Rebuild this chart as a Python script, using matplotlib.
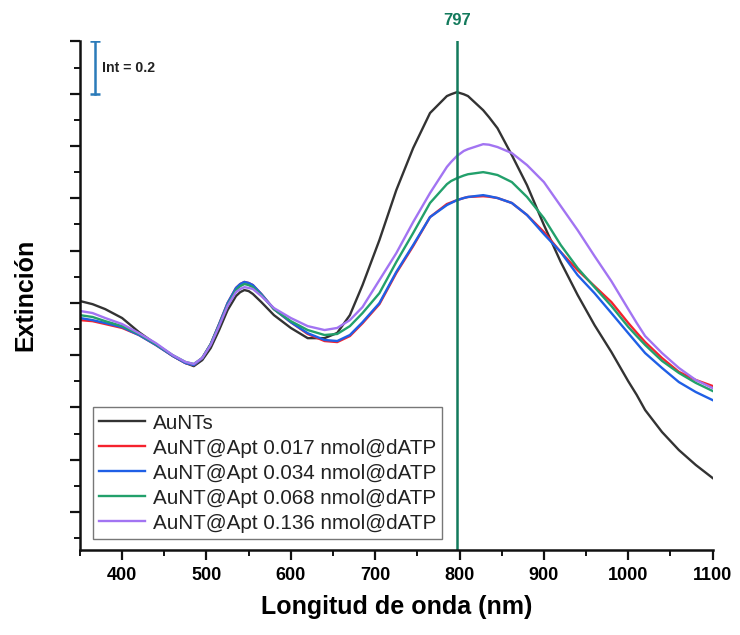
import matplotlib
matplotlib.use("Agg")
import matplotlib.pyplot as plt
from matplotlib.ticker import MultipleLocator, NullFormatter

plt.rcParams['font.family'] = ['Liberation Sans', 'DejaVu Sans']

wavelength = [350, 365, 380, 400, 420, 440, 460, 475, 485, 495,
              505, 515, 525, 535, 540, 545, 550, 555, 565, 580,
              600, 620, 640, 655, 670, 685, 705, 725, 745, 765,
              785, 790, 797, 805, 810, 828, 835, 845, 862, 880,
              900, 920, 940, 960, 980, 1000, 1010, 1020, 1040, 1060,
              1080, 1100]

aunts = [1.207, 1.195, 1.176, 1.142, 1.088, 1.042, 0.997, 0.970, 0.958, 0.981,
         1.027, 1.096, 1.172, 1.226, 1.241, 1.249, 1.245, 1.234, 1.203, 1.153,
         1.104, 1.065, 1.065, 1.085, 1.153, 1.268, 1.440, 1.631, 1.792, 1.926,
         1.991, 1.998, 2.006, 1.998, 1.991, 1.937, 1.910, 1.868, 1.765, 1.650,
         1.498, 1.356, 1.230, 1.115, 1.012, 0.900, 0.848, 0.790, 0.706, 0.637,
         0.580, 0.530]

apt_017 = [1.134, 1.130, 1.119, 1.104, 1.077, 1.039, 0.997, 0.970, 0.962, 0.989,
           1.042, 1.119, 1.199, 1.257, 1.272, 1.280, 1.276, 1.268, 1.234, 1.176,
           1.126, 1.081, 1.054, 1.050, 1.073, 1.122, 1.195, 1.314, 1.417, 1.528,
           1.578, 1.584, 1.593, 1.601, 1.605, 1.608, 1.606, 1.601, 1.582, 1.536,
           1.471, 1.394, 1.325, 1.264, 1.203, 1.123, 1.086, 1.050, 0.989, 0.936,
           0.905, 0.882]

apt_034 = [1.142, 1.134, 1.123, 1.107, 1.077, 1.039, 0.997, 0.970, 0.962, 0.989,
           1.042, 1.119, 1.199, 1.257, 1.272, 1.280, 1.276, 1.268, 1.234, 1.176,
           1.126, 1.084, 1.058, 1.054, 1.077, 1.126, 1.199, 1.318, 1.421, 1.528,
           1.574, 1.582, 1.593, 1.601, 1.605, 1.612, 1.608, 1.601, 1.582, 1.536,
           1.463, 1.394, 1.306, 1.237, 1.161, 1.084, 1.046, 1.008, 0.951, 0.897,
           0.859, 0.828]

apt_068 = [1.153, 1.146, 1.130, 1.111, 1.081, 1.042, 1.000, 0.974, 0.966, 0.989,
           1.042, 1.115, 1.192, 1.249, 1.264, 1.272, 1.268, 1.260, 1.230, 1.176,
           1.130, 1.096, 1.077, 1.081, 1.111, 1.161, 1.237, 1.356, 1.467, 1.582,
           1.654, 1.666, 1.677, 1.687, 1.692, 1.700, 1.696, 1.689, 1.662, 1.605,
           1.524, 1.421, 1.333, 1.260, 1.188, 1.108, 1.073, 1.039, 0.978, 0.932,
           0.894, 0.863]

apt_136 = [1.169, 1.161, 1.142, 1.119, 1.084, 1.046, 1.000, 0.974, 0.966, 0.989,
           1.039, 1.111, 1.188, 1.241, 1.253, 1.260, 1.257, 1.253, 1.226, 1.180,
           1.142, 1.111, 1.096, 1.104, 1.134, 1.184, 1.287, 1.390, 1.509, 1.620,
           1.720, 1.739, 1.762, 1.781, 1.788, 1.807, 1.805, 1.796, 1.773, 1.727,
           1.662, 1.570, 1.478, 1.379, 1.283, 1.176, 1.123, 1.073, 1.008, 0.951,
           0.905, 0.874]

labels = ["AuNTs", "AuNT@Apt 0.017 nmol@dATP", "AuNT@Apt 0.034 nmol@dATP",
          "AuNT@Apt 0.068 nmol@dATP", "AuNT@Apt 0.136 nmol@dATP"]
colors = ["#333333", "#f5222d", "#1f5fe6", "#22a06b", "#a274f2"]
series = [aunts, apt_017, apt_034, apt_068, apt_136]

peak_line = 797
scale_bar = (2.0, 2.2)

fig = plt.figure(figsize=(7.4, 6.35), dpi=100)
ax = fig.add_axes([0.108, 0.134, 0.855, 0.802])

for y, c, lab in zip(series, colors, labels):
    ax.plot(wavelength, y, color=c, lw=1.7, label=lab, solid_joinstyle='round')

teal = "#137a5c"
ax.axvline(peak_line, color=teal, lw=1.8)
ax.text(peak_line, 1.024, str(peak_line), transform=ax.get_xaxis_transform(),
        ha='center', va='bottom', color=teal, fontsize=12, fontweight='bold')

# scale bar
sb_color = "#2b7bb9"
ax.plot([368, 368], list(scale_bar), color=sb_color, lw=1.8, marker='_', ms=7, mew=1.8)
ax.text(376, sum(scale_bar) / 2, "Int = 0.2", ha='left', va='center',
        fontsize=10.2, fontweight='bold', color='#222222')

ax.set_xlim(350, 1100)
ax.set_ylim(0.255, 2.203)

ax.spines['top'].set_visible(False)
ax.spines['right'].set_visible(False)
for s in ['left', 'bottom']:
    ax.spines[s].set_linewidth(1.8)
    ax.spines[s].set_color('#111111')

ax.xaxis.set_major_locator(MultipleLocator(100))
ax.xaxis.set_minor_locator(MultipleLocator(50))
ax.yaxis.set_major_locator(MultipleLocator(0.2))
ax.yaxis.set_minor_locator(MultipleLocator(0.1))
ax.yaxis.set_major_formatter(NullFormatter())
ax.tick_params(axis='both', which='major', direction='out', length=7, width=1.6,
               color='#111111')
ax.tick_params(axis='both', which='minor', direction='out', length=4, width=1.4,
               color='#111111')
ax.tick_params(axis='x', which='major', labelsize=13, pad=5)
for t in ax.get_xticklabels():
    t.set_fontweight('bold')

ax.set_xlabel("Longitud de onda (nm)", fontsize=18, fontweight='bold', labelpad=8)
ax.set_ylabel("Extinción", fontsize=18, fontweight='bold', labelpad=20)

leg = ax.legend(loc='lower left', bbox_to_anchor=(0.0205, 0.0216), fontsize=14.9,
                frameon=True, fancybox=False, edgecolor='#777777', framealpha=1,
                handlelength=2.2, labelspacing=0.29, borderpad=0.3, handletextpad=0.4,
                borderaxespad=0)
leg.get_frame().set_linewidth(1.0)
for t in leg.get_texts():
    t.set_color('#222222')

fig.savefig("out.png", dpi=100)
